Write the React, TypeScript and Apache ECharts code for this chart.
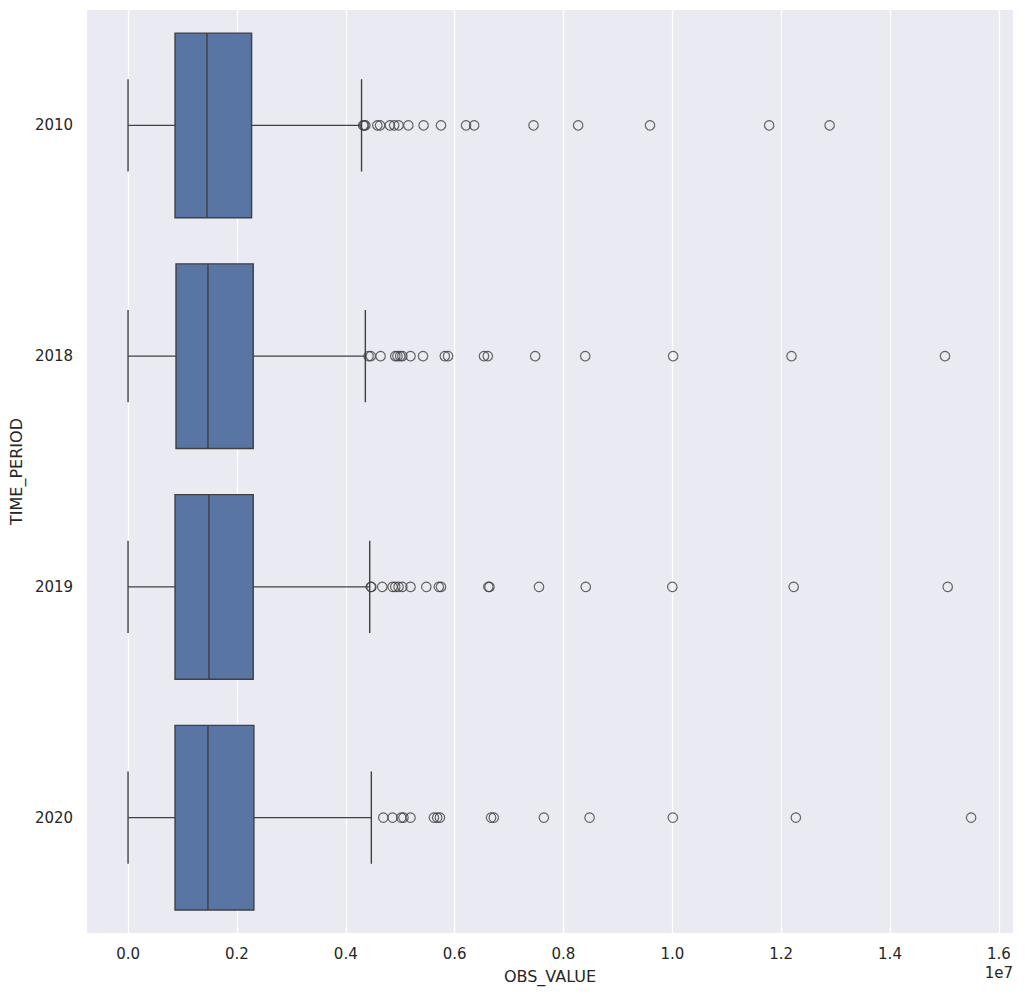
import { useEffect, useRef } from 'react';
import * as echarts from 'echarts';

// categories on the y axis, top to bottom
const years = ['2010', '2018', '2019', '2020'];

// box statistics per year: [whisker low, Q1, median, Q3, whisker high]
const boxStats = [
  [0, 0.863e6, 1.45e6, 2.27e6, 4.29e6],
  [0, 0.881e6, 1.468e6, 2.3e6, 4.36e6],
  [0, 0.863e6, 1.486e6, 2.3e6, 4.44e6],
  [0, 0.863e6, 1.468e6, 2.312e6, 4.47e6],
];

// fliers per year
const outliers2010 = [
  4.32e6, 4.34e6, 4.36e6, 4.58e6, 4.63e6, 4.81e6, 4.89e6, 4.97e6, 5.15e6, 5.43e6,
  5.75e6, 6.21e6, 6.36e6, 7.45e6, 8.27e6, 9.59e6, 11.78e6, 12.89e6,
];
const outliers2018 = [
  4.42e6, 4.46e6, 4.64e6, 4.91e6, 4.95e6, 5.0e6, 5.04e6, 5.19e6, 5.42e6, 5.82e6,
  5.88e6, 6.54e6, 6.61e6, 7.48e6, 8.4e6, 10.015e6, 12.19e6, 15.01e6,
];
const outliers2019 = [
  4.46e6, 4.47e6, 4.67e6, 4.86e6, 4.91e6, 4.97e6, 5.04e6, 5.19e6, 5.48e6, 5.71e6,
  5.75e6, 6.62e6, 6.64e6, 7.55e6, 8.41e6, 10.0e6, 12.23e6, 15.06e6,
];
const outliers2020 = [
  4.69e6, 4.86e6, 5.02e6, 5.06e6, 5.19e6, 5.62e6, 5.68e6, 5.73e6, 6.67e6, 6.72e6,
  7.64e6, 8.48e6, 10.01e6, 12.27e6, 15.49e6,
];
const outliers = [outliers2010, outliers2018, outliers2019, outliers2020];

// x tick values (shown as multiples of 1e7)
const xTicks = [0, 2e6, 4e6, 6e6, 8e6, 10e6, 12e6, 14e6, 16e6];

const FONT = '"DejaVu Sans", sans-serif';
const TEXT = '#262626';
const EDGE = '#404040';
const FILL = '#5875A4';

export default function App() {
  const chartRef = useRef<HTMLDivElement>(null);

  useEffect(() => {
    if (!chartRef.current) return;
    const chart = echarts.init(chartRef.current, undefined, { renderer: 'svg' });

    const boxData = boxStats.map((s, i) => [i, ...s]);
    const flierData: [number, number][] = [];
    outliers.forEach((list, i) => list.forEach((v) => flierData.push([v, i])));

    const option = {
      animation: false,
      backgroundColor: '#ffffff',
      textStyle: { fontFamily: FONT, color: TEXT },
      grid: {
        left: 86,
        right: 12,
        top: 10,
        bottom: 62,
        show: true,
        backgroundColor: '#EAEAF2',
        borderWidth: 0,
      },
      xAxis: {
        type: 'value',
        min: -0.753e6,
        max: 16.26e6,
        name: 'OBS_VALUE',
        nameLocation: 'middle',
        nameGap: 35,
        nameTextStyle: { fontFamily: FONT, fontSize: 16, color: TEXT },
        axisLine: { show: false },
        axisTick: { show: false, customValues: xTicks },
        axisLabel: {
          customValues: xTicks,
          fontFamily: FONT,
          fontSize: 15,
          color: TEXT,
          margin: 13,
          formatter: (v: number) => (v / 1e7).toFixed(1),
        },
        splitLine: { show: true, lineStyle: { color: '#ffffff', width: 1.3 } },
      },
      yAxis: {
        type: 'category',
        data: years,
        inverse: true,
        name: 'TIME_PERIOD',
        nameLocation: 'middle',
        nameGap: 60,
        nameTextStyle: { fontFamily: FONT, fontSize: 16, color: TEXT },
        axisLine: { show: false },
        axisTick: { show: false },
        axisLabel: { fontFamily: FONT, fontSize: 15, color: TEXT, margin: 14 },
        splitLine: { show: false },
      },
      graphic: [
        {
          type: 'text',
          right: 12,
          top: 965,
          style: { text: '1e7', font: `15px ${FONT}`, fill: TEXT },
        },
      ],
      series: [
        {
          type: 'custom',
          data: boxData,
          encode: { x: [1, 2, 3, 4, 5], y: 0 },
          renderItem: (params: any, api: any) => {
            const cat = api.value(0);
            const band = api.size([0, 1])[1];
            const half = band * 0.4;
            const cap = band * 0.2;
            const [xLo, y] = api.coord([api.value(1), cat]);
            const xQ1 = api.coord([api.value(2), cat])[0];
            const xMed = api.coord([api.value(3), cat])[0];
            const xQ3 = api.coord([api.value(4), cat])[0];
            const xHi = api.coord([api.value(5), cat])[0];
            const line = { stroke: EDGE, lineWidth: 1.4 };
            return {
              type: 'group',
              children: [
                { type: 'line', shape: { x1: xLo, y1: y, x2: xQ1, y2: y }, style: line },
                { type: 'line', shape: { x1: xQ3, y1: y, x2: xHi, y2: y }, style: line },
                { type: 'line', shape: { x1: xLo, y1: y - cap, x2: xLo, y2: y + cap }, style: line },
                { type: 'line', shape: { x1: xHi, y1: y - cap, x2: xHi, y2: y + cap }, style: line },
                {
                  type: 'rect',
                  shape: { x: xQ1, y: y - half, width: xQ3 - xQ1, height: half * 2 },
                  style: { fill: FILL, stroke: EDGE, lineWidth: 1.4 },
                },
                { type: 'line', shape: { x1: xMed, y1: y - half, x2: xMed, y2: y + half }, style: line },
              ],
            };
          },
          z: 2,
        },
        {
          type: 'scatter',
          data: flierData,
          symbol: 'circle',
          symbolSize: 9.5,
          itemStyle: { color: 'rgba(0,0,0,0)', borderColor: EDGE, borderWidth: 1.2 },
          z: 3,
        },
      ],
    };

    chart.setOption(option);
    return () => chart.dispose();
  }, []);

  return (
    <div
      ref={chartRef}
      style={{ position: 'absolute', left: 0, top: 0, width: 1025, height: 995 }}
    ></div>
  );
}
